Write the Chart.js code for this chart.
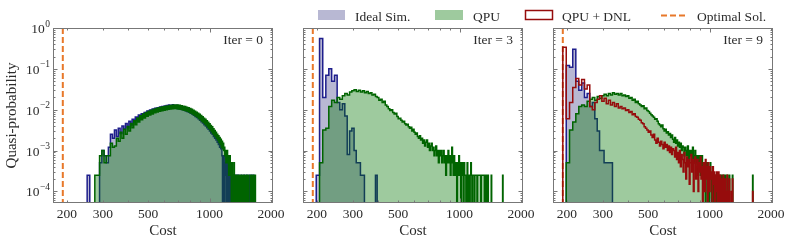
<!DOCTYPE html>
<html>
<head>
<meta charset="utf-8">
<script src="https://cdn.jsdelivr.net/npm/chart.js@4"></script>
<style>
  html, body { margin: 0; background: #fff; }
  #wrap { position: relative; width: 793px; height: 243px; }
  canvas { position: absolute; left: 0; top: 0; }
</style>
</head>
<body>
<div id="wrap">
  <canvas id="p0" width="793" height="243"></canvas>
  <canvas id="p1" width="793" height="243"></canvas>
  <canvas id="p2" width="793" height="243"></canvas>
</div>
<script>
// histogram bins: 200 equal bins starting at the optimal cost
const binStart = 191;
const binWidth = 7.55;
const optimalCost = 191;

const xTickLabels = [200, 300, 500, 1000, 2000];
const iterLabels = ['Iter = 0', 'Iter = 3', 'Iter = 9'];

// Iter = 0
const iter0Ideal = [
  0, 0, 0, 0, 0, 0, 0, 0, 2.5e-4, 0,
  0, 0, 0, 5e-4, 1e-3, 7.5e-4, 5e-4, 1.2e-3, 2.5e-3, 2e-3,
  3.2e-3, 2.2e-3, 3.5e-3, 2.6e-3, 4e-3, 3.3e-3, 4.6e-3, 3.6e-3, 5.2e-3, 4.2e-3,
  5.8e-3, 4.9e-3, 6.6e-3, 5.5e-3, 7.4e-3, 6.2e-3, 8e-3, 6.9e-3, 8.6e-3, 7.4e-3,
  9.3e-3, 7.9e-3, 9.8e-3, 8.4e-3, .0104, 8.9e-3, .0108, 9.3e-3, .0112, 9.6e-3,
  .0116, .0099, .0119, .0103, .0123, .0105, .0127, .0108, .013, .0109,
  .0128, .0112, .0133, .011, .0126, .0108, .0129, .0105, .0124, .0104,
  .0121, .0101, .0118, .0098, .0114, .0094, .011, .009, .0106, .0087,
  .0101, .0082, .0096, .0078, .0091, .0073, .0085, .0068, .0079, .0064,
  .0074, .006, .0069, .0055, .0064, .0051, .0059, .0047, .0054, .0043,
  .005, .004, .0046, .0036, .0042, .0033, .0038, .003, .0035, .0027,
  .0032, .0025, .0029, .0022, .0026, .002, .0023, .0018, .0021, .0016,
  .0019, .0014, .0017, .0012, .0015, .0011, .0013, 7.5e-4, 0, 5e-4,
  7.5e-4, 0, 5e-4, 2.5e-4, 7.5e-4, 0, 5e-4, 2.5e-4, 0, 2.5e-4,
  5e-4, 0, 2.5e-4, 0, 2.5e-4, 2.5e-4, 0, 0, 2.5e-4, 0,
  0, 2.5e-4, 0, 0, 2.5e-4, 0, 0, 0, 2.5e-4, 0,
  0, 0, 0, 0, 2.5e-4, 0, 0, 0, 0, 0,
  2.5e-4, 0, 0, 0, 0, 0, 2.5e-4, 0, 0, 0,
  0, 0, 2.5e-4, 0, 0, 0, 0, 2.5e-4, 0, 0,
  0, 0, 2.5e-4, 0, 0, 0, 0, 0, 0, 0
];
const iter0Qpu = [
  0, 0, 0, 0, 0, 0, 0, 0, 0, 0,
  0, 2.5e-4, 2.5e-4, 7.5e-4, 1e-3, 5e-4, 7.5e-4, 7.5e-4, 1.5e-3, 1.2e-3,
  1.3e-3, 2e-3, 1.7e-3, 2.8e-3, 2e-3, 3.3e-3, 2.5e-3, 3.9e-3, 3e-3, 4.6e-3,
  3.6e-3, 5.4e-3, 4.3e-3, 6.3e-3, 5e-3, 7.1e-3, 5.7e-3, 7.9e-3, 6.3e-3, 8.6e-3,
  6.9e-3, 9.2e-3, 7.4e-3, 9.7e-3, 7.9e-3, .0102, 8.4e-3, .0107, 8.8e-3, .0111,
  9.1e-3, .0114, 9.4e-3, .0118, 9.7e-3, .0121, .01, .0124, .0102, .0127,
  .0104, .0129, .0106, .0131, .0107, .013, .0106, .0131, .0104, .0128,
  .0102, .0125, .01, .0122, .0097, .0119, .0094, .0115, .0091, .0111,
  .0087, .0107, .0083, .0102, .0079, .0097, .0074, .0092, .007, .0087,
  .0066, .0082, .0061, .0077, .0057, .0072, .0053, .0067, .0049, .0062,
  .0045, .0058, .0042, .0054, .0038, .0049, .0035, .0045, .0032, .0041,
  .0029, .0038, .0026, .0034, .0024, .0031, .0022, .0028, .002, .0025,
  .0018, .0023, .0016, .0021, .0014, .0019, .0012, .0017, .0011, .0015,
  1e-3, 1.2e-3, 7.5e-4, 1e-3, 5e-4, 7.5e-4, 1e-3, 5e-4, 7.5e-4, 2.5e-4,
  5e-4, 7.5e-4, 2.5e-4, 5e-4, 0, 5e-4, 2.5e-4, 2.5e-4, 0, 5e-4,
  2.5e-4, 0, 2.5e-4, 2.5e-4, 0, 2.5e-4, 0, 2.5e-4, 0, 0,
  2.5e-4, 0, 2.5e-4, 0, 0, 2.5e-4, 0, 2.5e-4, 0, 0,
  0, 2.5e-4, 0, 2.5e-4, 0, 0, 0, 2.5e-4, 0, 2.5e-4,
  0, 0, 0, 0, 2.5e-4, 0, 0, 0, 2.5e-4, 0,
  2.5e-4, 0, 0, 0, 2.5e-4, 0, 2.5e-4, 0, 0, 0
];

// Iter = 3
const iter3Ideal = [
  0, 2.5e-4, .55, .02, .07, .1, .05, .07, .015, .01,
  .014, .007, 8e-4, 3e-3, 3.5e-3, 1e-3, 5e-4, 5e-4, 2.5e-4, 2.5e-4,
  0, 0, 0, 0, 0, 0, 2.5e-4
];
const iter3Qpu = [
  0, 0, 5e-4, 3.2e-3, 3.5e-3, .012, .017, .015, .02, .018,
  .022, .025, .023, .027, .029, .031, .028, .03, .027, .029,
  .026, .028, .025, .026, .023, .024, .021, .02, .017, .018,
  .015, .016, .013, .012, .0105, .0095, .01, .0085, .0078, .0082,
  .0068, .006, .0062, .0055, .005, .0052, .0045, .0042, .0044, .0038,
  .0035, .0037, .003, .0033, .0028, .0025, .0027, .0022, .002, .0023,
  .0018, .002, .0015, .0018, .0013, .0016, .0018, .0012, .0015, .001,
  .0013, .0015, .001, .0012, 7.5e-4, .001, .0013, 7.5e-4, .001, 5e-4,
  .001, 7.5e-4, .001, 5e-4, 7.5e-4, .001, 5e-4, 7.5e-4, 2.5e-4, 7.5e-4,
  5e-4, .001, 5e-4, 7.5e-4, 2.5e-4, 5e-4, .0012, 5e-4, 2.5e-4, 7.5e-4,
  5e-4, 2.5e-4, 5e-4, 0, 5e-4, 2.5e-4, 7.5e-4, 2.5e-4, 5e-4, 0,
  2.5e-4, 5e-4, 2.5e-4, 0, 5e-4, 2.5e-4, 2.5e-4, 0, 2.5e-4, 5e-4,
  0, 2.5e-4, 2.5e-4, 0, 2.5e-4, 5e-4, 2.5e-4, 0, 2.5e-4, 2.5e-4,
  2.5e-4, 0, 2.5e-4, 2.5e-4, 2.5e-4, 2.5e-4, 0, 2.5e-4, 2.5e-4, 2.5e-4,
  2.5e-4, 2.5e-4, 2.5e-4, 0, 2.5e-4, 2.5e-4, 2.5e-4, 2.5e-4, 2.5e-4, 2.5e-4,
  0, 0, 0, 2.5e-4, 0, 0, 0, 2.5e-4, 0, 0,
  0, 0, 0, 0, 2.5e-4, 0, 0, 0, 0, 0,
  0, 0, 0, 0, 0, 0, 0, 0, 0, 0,
  0, 0, 0, 0, 0, 0, 0, 0, 0, 0,
  2.5e-4
];

// Iter = 9
const iter9Ideal = [
  0, .12, .11, .3, .05, .03, .045, .02, .025, .012,
  .015, .006, 3e-3, 1e-3, 1e-3, 5e-4, 5e-4, 5e-4, 5e-4
];
const iter9Qpu = [
  0, 5e-4, 3.2e-3, 5e-3, 8e-3, .012, .013, .012, .016, .018,
  .02, .017, .021, .019, .022, .024, .022, .025, .023, .026,
  .024, .025, .023, .025, .022, .023, .021, .022, .019, .02,
  .017, .018, .015, .016, .014, .013, .012, .0125, .0105, .011,
  .0095, .009, .0082, .0075, .007, .0065, .0058, .006, .0052, .0045,
  .0042, .0038, .0042, .0034, .003, .0033, .0027, .0029, .0024, .0026,
  .0021, .0024, .0019, .0016, .0021, .0015, .0018, .0013, .0016, .0012,
  .0015, .001, .0013, .0012, 7.5e-4, .0012, .001, 7.5e-4, .0013, 5e-4,
  .001, 7.5e-4, .001, 5e-4, .0012, 5e-4, 7.5e-4, .001, 5e-4, 7.5e-4,
  2.5e-4, 7.5e-4, 5e-4, 7.5e-4, 2.5e-4, 5e-4, 7.5e-4, 2.5e-4, 5e-4, 2.5e-4,
  5e-4, 0, 2.5e-4, 5e-4, 2.5e-4, 2.5e-4, 0, 2.5e-4, 5e-4, 2.5e-4,
  0, 2.5e-4, 2.5e-4, 0, 2.5e-4, 0, 2.5e-4, 2.5e-4, 0, 2.5e-4,
  0, 2.5e-4, 0, 0, 2.5e-4, 0, 2.5e-4, 0, 0, 2.5e-4,
  0, 0, 2.5e-4, 0, 0, 0, 2.5e-4, 0, 0, 0,
  2.5e-4, 0, 0, 0, 0, 0, 2.5e-4, 0, 0, 0,
  0, 0, 0, 0, 0, 0, 0, 0, 0, 0,
  0, 0, 0, 0, 0, 0, 0, 0, 0, 0,
  0, 0, 0, 0, 0, 0, 0, 0, 0, 0,
  0, 0, 0, 0, 0, 0, 0, 0, 0, 0,
  2.5e-4
];
const iter9Dnl = [
  .34, .006, .015, .035, .058, .04, .055, .032, .04, .012,
  .01, .015, .018, .022, .016, .019, .014, .017, .013, .015,
  .012, .014, .011, .012, .0105, .011, .0095, .01, .0085, .009,
  .0075, .008, .0068, .0065, .0058, .0055, .0048, .0045, .0038, .0035,
  .0032, .0028, .003, .0024, .0021, .0025, .0018, .0015, .002, .0016,
  .0013, .0017, .0014, .0011, .0016, .0012, .0014, .001, .0013, 9e-4,
  .0012, 8e-4, .0011, .001, 7e-4, .0012, 6e-4, 9e-4, 5e-4, .001,
  4e-4, 8e-4, 6e-4, 3e-4, 9e-4, 5e-4, 2e-4, 7e-4, 4e-4, 6e-4,
  1.5e-4, 5e-4, 8e-4, 3e-4, 6e-4, 1e-4, 5e-4, 7e-4, 2e-4, 4e-4,
  6e-4, 1e-4, 5e-4, 3e-4, 7e-4, 2e-4, 4e-4, 0, 5e-4, 3e-4,
  1e-4, 6e-4, 2e-4, 4e-4, 0, 5e-4, 2.5e-4, 1e-4, 4e-4, 2e-4,
  3e-4, 0, 4e-4, 1.5e-4, 3e-4, 0, 2.5e-4, 1e-4, 3e-4, 0,
  2e-4, 3e-4, 0, 1e-4, 2.5e-4, 0, 2e-4, 0, 1e-4, 2.5e-4,
  0, 1e-4, 2e-4, 0, 0, 1e-4, 2.5e-4, 0, 0, 1e-4,
  2e-4, 0, 0, 0, 1e-4, 0, 2e-4, 0, 0, 0,
  0, 0, 0, 0, 0, 0, 0, 0, 0, 0,
  0, 0, 0, 0, 0, 0, 0, 0, 0, 0,
  0, 0, 0, 0, 0, 0, 0, 0, 0, 0,
  0, 0, 0, 0, 0, 0, 0, 0, 0, 0,
  1e-4
];

const panelData = [
  { ideal: iter0Ideal, qpu: iter0Qpu, dnl: null },
  { ideal: iter3Ideal, qpu: iter3Qpu, dnl: null },
  { ideal: iter9Ideal, qpu: iter9Qpu, dnl: iter9Dnl },
];

// look
const FONT = '"Liberation Serif", "DejaVu Serif", serif';
const TEXT = '#2b2b2b';
const AXIS = '#777';
const IDEAL_LINE = '#1e1e8c';
const IDEAL_FILL = 'rgba(40,40,120,0.33)';
const QPU_LINE = '#006400';
const QPU_FILL = 'rgba(0,115,0,0.38)';
const DNL_LINE = '#960c0c';
const OPT_COLOR = '#e8782a';

const panelLeft = [53, 303, 553];
const panelRight = [273, 523, 773];
const xMin = 171, xMax = 2046;
const yMin = 5.2e-5, yMax = 1;
const FLOOR = 1e-6; // empty bins sit below the axis

const xMinorTicks = [200, 300, 400, 500, 600, 700, 800, 900, 2000];
const xMajorTicks = [1000];
const yDecades = [1e-4, 1e-3, 1e-2, 1e-1, 1];

function histPoints(values) {
  const pts = [{ x: binStart, y: FLOOR }];
  values.forEach((v, i) => pts.push({ x: binStart + i * binWidth, y: v > 0 ? v : FLOOR }));
  pts.push({ x: binStart + values.length * binWidth, y: FLOOR });
  return pts;
}

function histDataset(values, line, fillColor, order) {
  return {
    data: histPoints(values),
    stepped: true,
    borderColor: line,
    borderWidth: 1.5,
    backgroundColor: fillColor || 'transparent',
    fill: fillColor ? 'start' : false,
    pointRadius: 0,
    clip: 0,
    order: order,
  };
}

const framePlugin = {
  id: 'frame',
  afterDraw(chart, args, opts) {
    const { ctx, chartArea: a } = chart;
    const x = chart.scales.x, y = chart.scales.y;
    ctx.save();
    ctx.strokeStyle = AXIS;
    ctx.lineWidth = 1;
    ctx.strokeRect(a.left + 0.5, a.top + 0.5, a.right - a.left - 1, a.bottom - a.top - 1);

    ctx.beginPath();
    const xMark = (v, len) => {
      const px = Math.round(x.getPixelForValue(v)) + 0.5;
      ctx.moveTo(px, a.bottom); ctx.lineTo(px, a.bottom - len);
      ctx.moveTo(px, a.top); ctx.lineTo(px, a.top + len);
    };
    const yMark = (v, len) => {
      const py = Math.round(y.getPixelForValue(v)) + 0.5;
      ctx.moveTo(a.left, py); ctx.lineTo(a.left + len, py);
      ctx.moveTo(a.right, py); ctx.lineTo(a.right - len, py);
    };
    xMinorTicks.forEach(v => xMark(v, 2.5));
    xMajorTicks.forEach(v => xMark(v, 4.5));
    yDecades.forEach(d => {
      yMark(d, 4.5);
      for (let m = 2; m <= 9; m++) {
        const v = d * m / 10;
        if (v > yMin) yMark(v, 2.5);
      }
    });
    ctx.stroke();

    ctx.fillStyle = TEXT;
    ctx.font = '13.5px ' + FONT;
    ctx.textAlign = 'right';
    ctx.textBaseline = 'alphabetic';
    ctx.fillText(opts.label, a.right - 10, a.top + 16);

    ctx.textAlign = 'center';
    ctx.font = '15px ' + FONT;
    ctx.fillText('Cost', (a.left + a.right) / 2, 234.5);

    if (opts.yLabels) {
      yDecades.forEach(d => {
        const e = Math.round(Math.log10(d));
        const py = y.getPixelForValue(d);
        const exp = e === 0 ? '0' : '\u2212' + (-e);
        ctx.textAlign = 'right';
        ctx.font = '9.5px ' + FONT;
        const w = ctx.measureText(exp).width;
        ctx.fillText(exp, a.left - 3, py - 1.5);
        ctx.font = '13.5px ' + FONT;
        ctx.fillText('10', a.left - 3 - w - 0.5, py + 5);
      });
      ctx.save();
      ctx.translate(12, (a.top + a.bottom) / 2);
      ctx.rotate(-Math.PI / 2);
      ctx.textAlign = 'center';
      ctx.textBaseline = 'middle';
      ctx.font = '15px ' + FONT;
      ctx.fillText('Quasi-probability', 0, 0);
      ctx.restore();
    }
    ctx.restore();
  }
};

const legendPlugin = {
  id: 'sharedLegend',
  afterDraw(chart) {
    const ctx = chart.ctx;
    ctx.save();
    ctx.fillStyle = IDEAL_FILL;
    ctx.fillRect(318, 10, 27, 10);
    ctx.fillStyle = QPU_FILL;
    ctx.fillRect(435, 10, 28, 10);
    ctx.strokeStyle = DNL_LINE;
    ctx.lineWidth = 1.5;
    ctx.strokeRect(525.5, 10.5, 27, 9);
    ctx.strokeStyle = OPT_COLOR;
    ctx.lineWidth = 2;
    ctx.setLineDash([6, 3]);
    ctx.beginPath();
    ctx.moveTo(661, 15.5); ctx.lineTo(686, 15.5);
    ctx.stroke();
    ctx.setLineDash([]);
    ctx.fillStyle = TEXT;
    ctx.font = '13.5px ' + FONT;
    ctx.textAlign = 'left';
    ctx.textBaseline = 'alphabetic';
    ctx.fillText('Ideal Sim.', 355, 20.5);
    ctx.fillText('QPU', 473, 20.5);
    ctx.fillText('QPU + DNL', 562, 20.5);
    ctx.fillText('Optimal Sol.', 697, 20.5);
    ctx.restore();
  }
};

panelData.forEach((p, k) => {
  const datasets = [
    {
      data: [{ x: optimalCost, y: yMax }, { x: optimalCost, y: FLOOR }],
      borderColor: OPT_COLOR, borderWidth: 2, borderDash: [6, 3],
      pointRadius: 0, fill: false, clip: 0, order: 5,
    },
    histDataset(p.ideal, IDEAL_LINE, IDEAL_FILL, 4),
    histDataset(p.qpu, QPU_LINE, QPU_FILL, 3),
  ];
  if (p.dnl) datasets.push(histDataset(p.dnl, DNL_LINE, null, 1));

  new Chart(document.getElementById('p' + k), {
    type: 'line',
    data: { datasets },
    options: {
      responsive: false,
      animation: false,
      events: [],
      layout: { padding: { left: 0, right: 793 - panelRight[k], top: 28, bottom: 0 }, autoPadding: false },
      plugins: {
        legend: { display: false },
        tooltip: { enabled: false },
        frame: { label: iterLabels[k], yLabels: k === 0 },
      },
      scales: {
        x: {
          type: 'logarithmic',
          min: xMin,
          max: xMax,
          afterFit: s => { s.height = 40; },
          afterBuildTicks: s => { s.ticks = xTickLabels.map(v => ({ value: v })); },
          ticks: {
            callback: v => String(v),
            autoSkip: false, maxRotation: 0, minRotation: 0,
            padding: 3, color: TEXT,
            font: { family: FONT, size: 13.5 },
          },
          grid: { display: false, drawTicks: false },
          border: { display: false },
        },
        y: {
          type: 'logarithmic',
          min: yMin,
          max: yMax,
          afterFit: s => { s.width = panelLeft[k]; },
          ticks: { display: false },
          grid: { display: false, drawTicks: false },
          border: { display: false },
        },
      },
    },
    plugins: k === 2 ? [framePlugin, legendPlugin] : [framePlugin],
  });
});
</script>
</body>
</html>
